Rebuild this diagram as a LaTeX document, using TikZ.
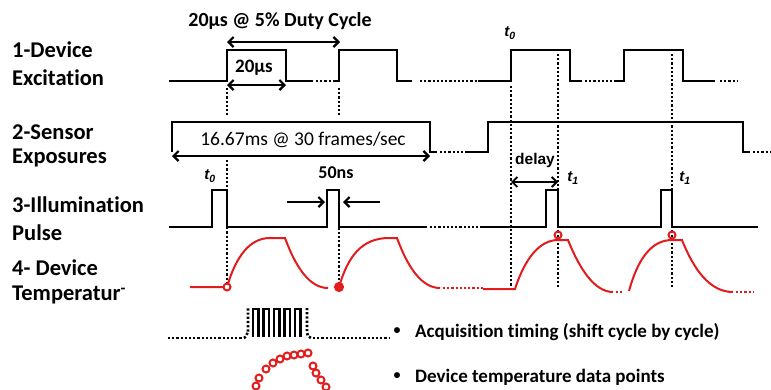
\documentclass[tikz,border=0pt]{standalone}
\usepackage{fontspec}
\setmainfont{Carlito}[Ligatures=NoCommon]
\newfontfamily\arialfont{Liberation Sans}
\usetikzlibrary{arrows.meta}
\definecolor{tempred}{RGB}{226, 28, 28}

\begin{document}
\begin{tikzpicture}[x=1pt, y=-1pt,
    wave/.style={line width=2.7pt, line join=miter},
    guide/.style={line width=2.6pt, dash pattern=on 2.2pt off 2pt},
    temp/.style={tempred, line width=2pt},
    tempguide/.style={tempred, line width=2.2pt, dash pattern=on 2.2pt off 2pt},
    dim/.style={line width=2.2pt, {Straight Barb[length=5pt,width=10pt]}-{Straight Barb[length=5pt,width=10pt]}},
    pointer/.style={line width=2.2pt, -{Straight Barb[length=5pt,width=10pt]}},
    rowlabel/.style={anchor=west, inner sep=0pt, font=\fontsize{22.5}{24}\selectfont\bfseries},
    note/.style={inner sep=0pt, font=\fontsize{19}{21}\selectfont\bfseries},
    tlabel/.style={inner sep=0pt, font=\arialfont\fontsize{15}{17}\selectfont\bfseries\itshape},
    sample/.style={circle, draw=tempred, line width=2pt, inner sep=0pt, minimum size=7pt}]
  \useasboundingbox (0,0) rectangle (771,389);

  % row labels
  \node[rowlabel] (ex1) at (12,50) {1-Device};
  \node[rowlabel] (ex2) at (12,78) {Excitation};
  \node[rowlabel] (se1) at (12,132) {2-Sensor};
  \node[rowlabel] (se2) at (12,158) {Exposures};
  \node[rowlabel] (il1) at (12,205) {3-Illumination};
  \node[rowlabel] (il2) at (12,233) {Pulse};
  \node[rowlabel] (dt1) at (12,268) {4- Device};
  \node[rowlabel] (dt2) at (12,295) {Temperatur\textsuperscript{-}};

  % 1 - device excitation
  \draw[wave] (169,81) -- (227,81) -- (227,50) -- (286,50) -- (286,81) -- (313,81);
  \draw[guide] (316,81) -- (333,81);
  \draw[wave] (333,81) -- (339,81) -- (339,50) -- (397,50) -- (397,81) -- (412,81);
  \draw[guide] (420,81) -- (478,81);
  \draw[wave] (478,81) -- (511,81) -- (511,50) -- (570,50) -- (570,81) -- (582,81);
  \draw[guide] (585,81) -- (615,81);
  \draw[wave] (615,81) -- (624,81) -- (624,50) -- (683,50) -- (683,81) -- (715,81);
  \draw[guide] (720,81) -- (737,81);

  % 2 - sensor exposures
  \draw[wave] (172,152) -- (172,122) -- (430,122) -- (430,152) -- (437,152);
  \draw[guide] (440,152) -- (465,152);
  \draw[wave] (465,152) -- (488,152) -- (488,122) -- (743,122) -- (743,152) -- (750,152);
  \draw[guide] (753,152) -- (770,152);

  % 3 - illumination pulse
  \draw[wave] (169,227) -- (212,227) -- (212,190) -- (227,190) -- (227,227) -- (327,227)
    -- (327,190) -- (339,190) -- (339,227) -- (427,227);
  \draw[guide] (430,227) -- (482,227);
  \draw[wave] (482,227) -- (546,227) -- (546,190) -- (558,190) -- (558,227) -- (661,227)
    -- (661,190) -- (672,190) -- (672,227) -- (758,227);

  % timing guides
  \draw[guide] (227,88) -- (227,116);
  \draw[guide] (227,160) -- (227,284);
  \draw[guide] (339,88) -- (339,116);
  \draw[guide] (339,194) -- (339,284);
  \draw[guide] (511,86) -- (511,288);
  \draw[guide] (558,54) -- (558,288);
  \draw[guide] (672,54) -- (672,288);

  % 4 - device temperature
  \draw[temp] (190,287) -- (227,287) .. controls (236,256) and (250,238) .. (270,238) -- (285,238)
    .. controls (296,268) and (310,288) .. (328,288);
  \draw[temp] (339,287) .. controls (348,256) and (362,238) .. (389,238) -- (397,238)
    .. controls (408,268) and (422,288) .. (440,288);
  \draw[tempguide] (443,288) -- (483,288);
  \draw[temp] (483,289) -- (515,289) .. controls (525,258) and (540,240) .. (558,240) -- (568,240)
    .. controls (580,270) and (595,292) .. (613,292);
  \draw[tempguide] (616,292) -- (623,292);
  \draw[temp] (629,291) .. controls (638,258) and (652,240) .. (672,240) -- (682,240)
    .. controls (694,270) and (710,292) .. (733,292);
  \draw[tempguide] (736,292) -- (753,292);
  \node[sample, fill=white] (s0) at (227,287) {};
  \node[sample, fill=tempred, minimum size=8pt] (s1) at (339,287) {};
  \node[sample] (s2) at (558,235) {};
  \node[sample] (s3) at (672,235) {};

  % dimension marks
  \coordinate (dutyL) at (227,42);
  \coordinate (dutyR) at (340,42);
  \coordinate (onL) at (227,85);
  \coordinate (onR) at (286,85);
  \coordinate (frameL) at (172,156);
  \coordinate (frameR) at (430,156);
  \coordinate (inL) at (287,202);
  \coordinate (inLtip) at (325,202);
  \coordinate (inR) at (380,202);
  \coordinate (inRtip) at (343,202);
  \coordinate (delayL) at (511,182);
  \coordinate (delayR) at (558,182);
  \draw[dim] (dutyL) -- (dutyR);
  \draw[dim] (onL) -- (onR);
  \draw[dim] (frameL) -- (frameR);
  \draw[pointer] (inL) -- (inLtip);
  \draw[pointer] (inR) -- (inRtip);
  \draw[dim, line width=1.8pt] (delayL) -- (delayR);

  \node[inner sep=0pt, font=\fontsize{20}{22}\selectfont\bfseries] (duty) at (280,21) {20μs @ 5\% Duty Cycle};
  \node[note] (on) at (254,68) {20μs};
  \node[inner sep=0pt, font=\fontsize{19.5}{21}\selectfont] (frame) at (303,140) {16.67ms @ 30 frames/sec};
  \node[note, font=\fontsize{18}{20}\selectfont\bfseries] (width) at (336,173) {50ns};
  \node[inner sep=0pt, font=\arialfont\fontsize{15.5}{17}\selectfont\bfseries] (delay) at (535,160) {delay};
  \node[tlabel] (t0a) at (510,33) {t\textsubscript{0}};
  \node[tlabel] (t0b) at (210,176) {t\textsubscript{0}};
  \node[tlabel] (t1a) at (573,178) {t\textsubscript{1}};
  \node[tlabel] (t1b) at (685,178) {t\textsubscript{1}};

  % legend: acquisition timing
  \draw[guide] (168,338) -- (244,338);
  \draw[guide] (244,338) to[out=0, in=90] (248,332) -- (248,308);
  \foreach \x in {253,263.5,274,284.5,295} {
    \draw[line width=2.2pt] (\x,337) -- (\x,309) -- (\x+5.5,309) -- (\x+5.5,337);
  }
  \draw[guide] (307,308) -- (307,332) to[out=-90, in=180] (311,338);
  \draw[guide] (313,338) -- (390,338);
  \node[note, font=\fontsize{14}{16}\selectfont\bfseries] (b1) at (397,331) {•};
  \node[note, anchor=west] (acq) at (415,332) {Acquisition timing (shift cycle by cycle)};

  % legend: data points
  \foreach \px/\py [count=\k] in {256/386, 259/378, 266/369, 273/363, 280/359, 287/356,
      294/355, 301/354, 308/353, 313/366, 316/373, 321/380, 326/387} {
    \node[sample] (d\k) at (\px,\py) {};
  }
  \node[note, font=\fontsize{14}{16}\selectfont\bfseries] (b2) at (397,376) {•};
  \node[note, anchor=west] (pts) at (415,377) {Device temperature data points};
\end{tikzpicture}
\end{document}
